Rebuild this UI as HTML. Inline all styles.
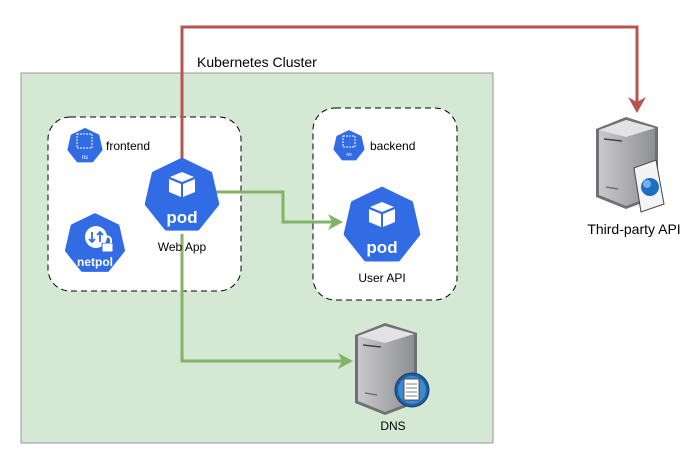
<!DOCTYPE html>
<html><head><meta charset="utf-8"><style>
html,body{margin:0;padding:0;background:#fff;width:693px;height:471px;overflow:hidden}
svg text{font-family:"Liberation Sans",Arial,sans-serif}
</style></head><body>
<svg width="693" height="471" viewBox="0 0 693 471" xmlns="http://www.w3.org/2000/svg">
<defs>
<polygon id="hep" points="0,-1 0.782,-0.623 0.975,0.223 0.434,0.901 -0.434,0.901 -0.975,0.223 -0.782,-0.623" fill="#326ce5" stroke="#326ce5" stroke-width="0.12" stroke-linejoin="round"/>
<linearGradient id="srv" x1="0" x2="1"><stop offset="0" stop-color="#c9c9cb"/><stop offset="1" stop-color="#8e8f93"/></linearGradient>
<g id="server">
<polygon points="0,12 30,0 62,10 62,80 30,92 0,80" fill="#6f7074"/>
<polygon points="3,13 30,3 59,11 59,78 30,89 3,78" fill="url(#srv)"/>
<path d="M3,13 L30,3 L59,11 L30,20 Z" fill="#e3e3e5"/>
<line x1="8" y1="22" x2="26" y2="24" stroke="#444" stroke-width="1.5"/>
<line x1="10" y1="70" x2="22" y2="72" stroke="#666" stroke-width="1.2"/>
</g>
</defs>
<rect x="21" y="73" width="472" height="370" fill="#d5e8d4" stroke="#999" stroke-width="1"/>
<text x="197" y="67" font-size="14" fill="#000">Kubernetes Cluster</text>
<rect x="48" y="117" width="193" height="174" rx="22" fill="#fff" stroke="#000" stroke-dasharray="6,4"/>
<rect x="313" y="108" width="144" height="192" rx="22" fill="#fff" stroke="#000" stroke-dasharray="6,4"/>
<!-- connectors -->
<polyline points="182,160 182,27 637,27 637,104" fill="none" stroke="#b85450" stroke-width="3"/>
<polygon points="628,97 637,113 646,97 637,102" fill="#b85450"/>
<polyline points="214,192 283,192 283,222 332,222" fill="none" stroke="#82b366" stroke-width="3"/>
<polygon points="328,214 343,222 328,230 332,222" fill="#82b366"/>
<polyline points="182,234 182,361 342,361" fill="none" stroke="#82b366" stroke-width="3"/>
<polygon points="338,353 353,361 338,369 342,361" fill="#82b366"/>
<!-- ns frontend -->
<g transform="translate(85,146) scale(17)"><use href="#hep"/></g>
<rect x="77" y="134" width="15" height="14" fill="none" stroke="#fff" stroke-width="1" stroke-dasharray="2,1"/>
<text x="85" y="159" font-size="6" fill="#fff" text-anchor="middle">ns</text>
<text x="106" y="150" font-size="12" fill="#000">frontend</text>
<!-- ns backend -->
<g transform="translate(349,146) scale(15)"><use href="#hep"/></g>
<rect x="343" y="136" width="12" height="11" fill="none" stroke="#fff" stroke-width="1" stroke-dasharray="2,1"/>
<text x="349" y="156" font-size="5" fill="#fff" text-anchor="middle">ns</text>
<text x="370" y="150" font-size="12" fill="#000">backend</text>
<!-- netpol -->
<g transform="translate(95,244) scale(29)"><use href="#hep"/></g>
<circle cx="96" cy="237" r="11" fill="#fff"/>
<path d="M92,232 v10 M89,239 l3,3 l3,-3 M100,242 v-10 M97,235 l3,-3 l3,3" stroke="#326ce5" stroke-width="1.8" fill="none"/>
<rect x="102" y="243" width="11" height="9" rx="1" fill="#fff" stroke="#326ce5"/>
<path d="M104,243 v-3 a3.5,3.5 0 0 1 7,0 v3" fill="none" stroke="#fff" stroke-width="2"/>
<text x="95" y="266" font-size="12" font-weight="bold" fill="#fff" text-anchor="middle">netpol</text>
<!-- web app pod -->
<g transform="translate(182,196) scale(36)"><use href="#hep"/></g>
<path d="M182,172 l-12,5 l12,5 l12,-5 Z" fill="#fff"/>
<path d="M169,179 l12,5 v13 l-12,-5 Z M195,179 l-12,5 v13 l12,-5 Z" fill="#fff"/>
<text x="182" y="223" font-size="17" font-weight="bold" fill="#fff" text-anchor="middle">pod</text>
<text x="182" y="251" font-size="12" fill="#000" text-anchor="middle">Web App</text>
<!-- user api pod -->
<g transform="translate(382,226) scale(37)"><use href="#hep"/></g>
<path d="M382,202 l-12,5 l12,5 l12,-5 Z" fill="#fff"/>
<path d="M369,209 l12,5 v13 l-12,-5 Z M395,209 l-12,5 v13 l12,-5 Z" fill="#fff"/>
<text x="382" y="253" font-size="17" font-weight="bold" fill="#fff" text-anchor="middle">pod</text>
<text x="382" y="282" font-size="12" fill="#000" text-anchor="middle">User API</text>
<!-- DNS server -->
<g transform="translate(355,323) scale(1.0)"><use href="#server"/></g>
<circle cx="412" cy="390" r="17" fill="#1f5f9e" stroke="#0d3c6e"/>
<circle cx="412" cy="390" r="14" fill="#3d8ad0"/>
<rect x="404" y="379" width="15" height="21" fill="#fff" stroke="#333" stroke-width="0.8"/>
<path d="M406,384 h11 M406,388 h11 M406,392 h11 M406,396 h11" stroke="#555" stroke-width="0.8"/>
<text x="393" y="430" font-size="12" fill="#000" text-anchor="middle">DNS</text>
<!-- third party -->
<g transform="translate(596,117) scale(1.0)"><use href="#server"/></g>
<polygon points="634,168 656,160 664,204 641,212" fill="#f4f4f4" stroke="#444"/>
<circle cx="650" cy="187" r="9" fill="#1f6fc1"/>
<circle cx="647" cy="184" r="4" fill="#6fb2ee"/>
<text x="634" y="234" font-size="14" fill="#000" text-anchor="middle">Third-party API</text>
</svg>
</body></html>
